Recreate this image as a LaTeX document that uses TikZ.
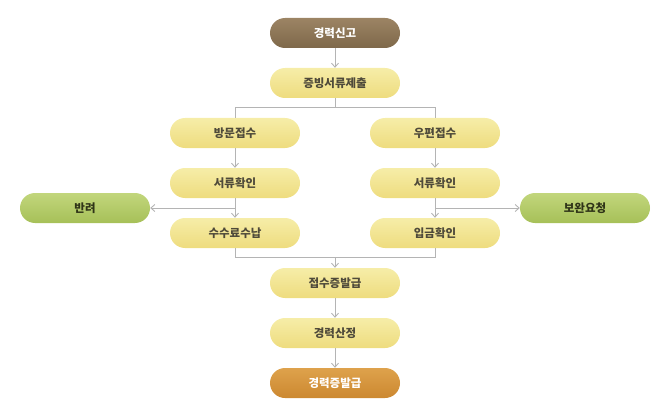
\documentclass[tikz,border=0pt]{standalone}
\usepackage{fontspec}
\setmainfont{Noto Sans CJK KR}
\usetikzlibrary{arrows.meta}
\definecolor{lineg}{HTML}{B4B4B4}
\tikzset{
  pill/.style={rectangle, rounded corners=15pt, minimum width=130pt, minimum height=30pt, inner sep=0pt, font=\fontsize{11.5}{13}\selectfont\bfseries},
  ybox/.style={pill, top color=yellowtop, bottom color=yellowbot, text=txtdark},
  gbox/.style={pill, top color=greentop, bottom color=greenbot, text=txtgreen},
  bbox/.style={pill, top color=browntop, bottom color=brownbot, text=white},
  obox/.style={pill, top color=orangetop, bottom color=orangebot, text=white},
  conn/.style={draw=lineg, line width=0.9pt},
  arr/.style={conn, -{Straight Barb[length=4pt,width=7pt,line width=0.9pt]}}
}
\definecolor{yellowtop}{HTML}{F6EDA8}
\definecolor{yellowbot}{HTML}{EEDC7E}
\definecolor{greentop}{HTML}{C2D67C}
\definecolor{greenbot}{HTML}{A6C058}
\definecolor{browntop}{HTML}{9C8464}
\definecolor{brownbot}{HTML}{7E684A}
\definecolor{orangetop}{HTML}{DEA24C}
\definecolor{orangebot}{HTML}{CC8830}
\definecolor{txtdark}{HTML}{4F4A3A}
\definecolor{txtgreen}{HTML}{2F3418}
\begin{document}
\begin{tikzpicture}[x=1pt,y=-1pt]
\useasboundingbox (0,0) rectangle (669,417);
\node[bbox] (a) at (335,33) {경력신고};
\node[ybox] (b) at (335,83) {증빙서류제출};
\node[ybox] (c1) at (235,133) {방문접수};
\node[ybox] (c2) at (435,133) {우편접수};
\node[ybox] (d1) at (235,183) {서류확인};
\node[ybox] (d2) at (435,183) {서류확인};
\node[ybox] (e1) at (235,233) {수수료수납};
\node[ybox] (e2) at (435,233) {입금확인};
\node[gbox] (r) at (85,208) {반려};
\node[gbox] (s) at (585,208) {보완요청};
\node[ybox] (f) at (335,283) {접수증발급};
\node[ybox] (g) at (335,333) {경력산정};
\node[obox] (h) at (335,383) {경력증발급};
\coordinate (split) at (335,107);
\coordinate (merge) at (335,257);
\coordinate (lj) at (235,208);
\coordinate (rj) at (435,208);
\draw[arr] (a) -- (b);
\draw[conn] (b) -- (split);
\draw[conn] (split) -| (c1);
\draw[conn] (split) -| (c2);
\draw[arr] (c1) -- (d1);
\draw[arr] (c2) -- (d2);
\draw[arr] (d1) -- (e1);
\draw[arr] (d2) -- (e2);
\draw[arr] (lj) -- (r);
\draw[arr] (rj) -- (s);
\draw[conn] (e1) |- (merge);
\draw[conn] (e2) |- (merge);
\draw[arr] (merge) -- (f);
\draw[arr] (f) -- (g);
\draw[arr] (g) -- (h);
\end{tikzpicture}
\end{document}
